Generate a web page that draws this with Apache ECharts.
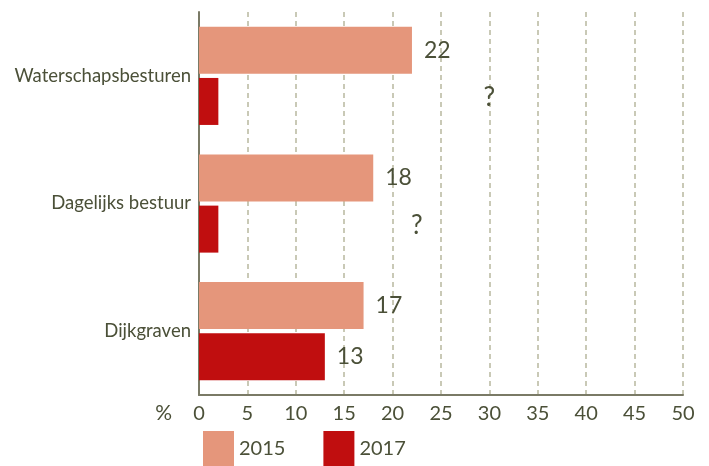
<!DOCTYPE html>
<html>
<head>
<meta charset="utf-8">
<script src="https://cdn.jsdelivr.net/npm/echarts@6/dist/echarts.min.js"></script>
<style>html,body{margin:0;padding:0;background:#fff;}#c{width:709px;height:466px;}</style>
</head>
<body>
<div id="c"></div>
<script>
const categories = ['Waterschapsbesturen', 'Dagelijks bestuur', 'Dijkgraven'];
const values2015 = [22, 18, 17];
const values2017 = [2, 2, 13];
const show2017Label = [false, false, true];
const unknownMarkX = [30, 22.5, null];
const xTicks = { min: 0, max: 50, interval: 5 };

const textColor = '#4b5038';
const fontFamily = 'Lato, "Open Sans", sans-serif';

const chart = echarts.init(document.getElementById('c'));
chart.setOption({
  animation: false,
  backgroundColor: '#fff',
  textStyle: { fontFamily: fontFamily, color: textColor },
  grid: { left: 199, right: 26, top: 12, bottom: 71, containLabel: false },
  legend: {
    data: ['2015', '2017'],
    left: 203, top: 431, padding: 0,
    itemWidth: 31, itemHeight: 35, itemGap: 38,
    icon: 'rect',
    textStyle: { fontSize: 20, color: textColor, fontFamily: fontFamily }
  },
  xAxis: {
    type: 'value',
    min: xTicks.min, max: xTicks.max, interval: xTicks.interval,
    name: '%', nameLocation: 'start', nameGap: 27,
    nameTextStyle: { fontSize: 21, color: textColor, fontFamily: fontFamily, verticalAlign: 'top', padding: [8, 0, 0, 0] },
    axisLine: { show: true, lineStyle: { color: '#7a7a66', width: 2 } },
    axisTick: { show: false },
    axisLabel: { fontSize: 20, color: textColor, margin: 9, fontFamily: fontFamily },
    splitLine: { show: true, lineStyle: { color: '#c9c9b6', width: 2, type: [5, 4] } }
  },
  yAxis: {
    type: 'category',
    data: categories,
    inverse: true,
    axisLine: { show: true, lineStyle: { color: '#7a7a66', width: 2 } },
    axisTick: { show: false },
    axisLabel: { fontSize: 18.5, color: textColor, margin: 8, fontFamily: fontFamily, padding: [11, 0, 0, 0] },
    splitLine: { show: false }
  },
  series: [
    {
      name: '2015', type: 'bar', data: values2015,
      barWidth: 47, barGap: '9%',
      itemStyle: { color: '#e5967b' },
      label: { show: true, position: 'right', distance: 12, fontSize: 23, color: textColor, fontFamily: fontFamily }
    },
    {
      name: '2017', type: 'bar',
      data: values2017.map((v, i) => ({ value: v, label: { show: show2017Label[i] } })),
      barWidth: 47,
      itemStyle: { color: '#c00e0f' },
      label: { position: 'right', distance: 12, fontSize: 23, color: textColor, fontFamily: fontFamily }
    },
    {
      name: 'unknown', type: 'scatter',
      data: unknownMarkX.map((x, i) => x == null ? null : [x, i]).filter(d => d),
      symbolSize: 1,
      itemStyle: { color: 'rgba(0,0,0,0)', opacity: 1 },
      label: { show: true, position: 'inside', offset: [0, 22], formatter: '?', fontSize: 26, color: textColor, opacity: 1, textBorderWidth: 0, fontFamily: fontFamily },
      silent: true
    }
  ]
});
</script>
</body>
</html>
